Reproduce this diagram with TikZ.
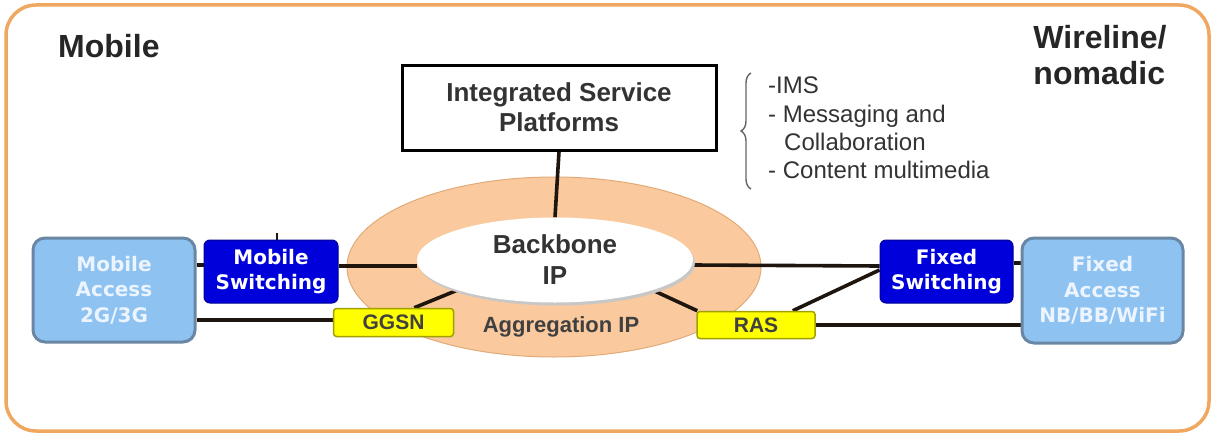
\documentclass[tikz,border=0pt]{standalone}
\usepackage{fontspec}
\setmainfont{Liberation Sans}
\newfontfamily\boxfont{DejaVu Sans}
\usetikzlibrary{shapes.geometric,decorations.pathreplacing}

\definecolor{frameorange}{RGB}{240,168,96}
\definecolor{ringfill}{RGB}{250,202,158}
\definecolor{ringedge}{RGB}{225,170,120}
\definecolor{accessfill}{RGB}{142,194,240}
\definecolor{accessedge}{RGB}{105,135,165}
\definecolor{accesstext}{RGB}{236,244,255}
\definecolor{switchfill}{RGB}{0,0,218}
\definecolor{switchedge}{RGB}{0,0,150}
\definecolor{gwfill}{RGB}{255,255,0}
\definecolor{gwedge}{RGB}{160,160,0}
\definecolor{wire}{RGB}{30,22,14}
\definecolor{bracegray}{RGB}{100,100,100}

\pgfdeclarelayer{framelayer}
\pgfdeclarelayer{ringlayer}
\pgfdeclarelayer{wires}
\pgfsetlayers{framelayer,ringlayer,wires,main}

\tikzset{
  heading/.style={font=\fontsize{32}{36}\selectfont\bfseries, inner sep=0pt, text=black!85},
  platform/.style={draw=black, line width=3pt, fill=white, minimum width=314pt, minimum height=85pt,
    inner sep=0pt, align=center, font=\fontsize{26}{30}\selectfont\bfseries, text=black!80},
  listitem/.style={anchor=base west, inner sep=0pt, font=\fontsize{24}{28}\selectfont, text=black!80},
  accessbox/.style={draw=accessedge, line width=3pt, fill=accessfill, rounded corners=12pt,
    inner sep=0pt, align=center, text=accesstext, font=\boxfont\fontsize{20}{25.5}\selectfont\bfseries},
  switchbox/.style={draw=switchedge, line width=1pt, fill=switchfill, rounded corners=6pt,
    inner sep=0pt, align=center, text=white, font=\boxfont\fontsize{20}{25}\selectfont\bfseries},
  gateway/.style={draw=gwedge, line width=1.5pt, fill=gwfill, rounded corners=3pt,
    inner sep=0pt, text=black!75, font=\fontsize{21}{24}\selectfont\bfseries},
  wireline/.style={draw=wire, line width=3.6pt},
}

\begin{document}
\begin{tikzpicture}[x=1pt,y=-1pt]
\useasboundingbox (0,0) rectangle (1214,436);

% outer frame
\begin{pgfonlayer}{framelayer}
  \draw[frameorange, line width=3.5pt, fill=white, rounded corners=30pt] (6,5) rectangle (1209,431);
\end{pgfonlayer}

% headings
\node[heading, anchor=base west] (mobile) at (58,57) {Mobile};
\node[heading, align=left] (wireline) at (1100,55) {Wireline/\\nomadic};

% service platform and its list
\node[platform] (isp) at (559,107.5) {Integrated Service\\Platforms};
\draw[bracegray, line width=1.4pt, decorate, decoration={brace, amplitude=10pt}] (751,189) -- (751,73);
\node[listitem] (ims) at (768,93) {-IMS};
\node[listitem] (msg) at (768,122) {- Messaging and};
\node[listitem] (collab) at (784,150) {Collaboration};
\node[listitem] (content) at (768,178) {- Content multimedia};

% aggregation ring
\begin{pgfonlayer}{ringlayer}
  \node[ellipse, fill=ringfill, draw=ringedge, line width=1pt, minimum width=414pt, minimum height=180pt, inner sep=0pt] (ring) at (554,267) {};
\end{pgfonlayer}
\node[inner sep=0pt, font=\fontsize{22}{26}\selectfont\bfseries, text=black!75] (agg) at (561,327) {Aggregation IP};

% backbone
\fill[black!22] (557,263) ellipse [x radius=138pt, y radius=42.5pt];
\node[ellipse, fill=white, minimum width=276pt, minimum height=85pt, inner sep=0pt, align=center,
  font=\fontsize{26}{31}\selectfont\bfseries, text=black!80] (bb) at (555,260) {Backbone\\IP};

% access and switching
\node[accessbox, minimum width=162pt, minimum height=104pt] (macc) at (114,290) {Mobile\\Access\\2G/3G};
\node[switchbox, minimum width=134pt, minimum height=63pt] (msw) at (271,271.5) {Mobile\\Switching};
\node[switchbox, minimum width=133pt, minimum height=63pt] (fsw) at (946.5,271.5) {Fixed\\Switching};
\node[accessbox, minimum width=161pt, minimum height=105pt] (facc) at (1102.5,290.5) {Fixed\\Access\\NB/BB/WiFi};

% gateways
\node[gateway, minimum width=120pt, minimum height=28pt] (ggsn) at (393.5,322.5) {GGSN};
\node[gateway, minimum width=118pt, minimum height=27pt] (ras) at (756,325) {RAS};

% links
\begin{pgfonlayer}{wires}
  \draw[wireline] (isp.south) -- (bb.north);
  \draw[wireline] (macc.east |- 0,265) -- (msw.west |- 0,265);
  \draw[wireline] (msw.east |- 0,266) -- (bb.west |- 0,266);
  \draw[wireline] (macc.east |- 0,320) -- (ggsn.west |- 0,320);
  \draw[wireline] ([xshift=-40pt]ggsn.north east) -- (bb.south west);
  \draw[wireline] (bb.east |- 0,265) -- (fsw.west |- 0,266);
  \draw[wireline] (bb.south east) -- ([xshift=1pt]ras.north west);
  \draw[wireline] ([xshift=-23pt]ras.north east) -- ([yshift=1.5pt]fsw.west);
  \draw[wireline] (ras.east) -- (facc.west |- ras.east);
  \draw[wireline] (fsw.east |- 0,263) -- (facc.west |- 0,263);
  \draw[wire, line width=2pt] (msw.north -| 277,0) -- ++(0,-7);
\end{pgfonlayer}
\end{tikzpicture}
\end{document}
